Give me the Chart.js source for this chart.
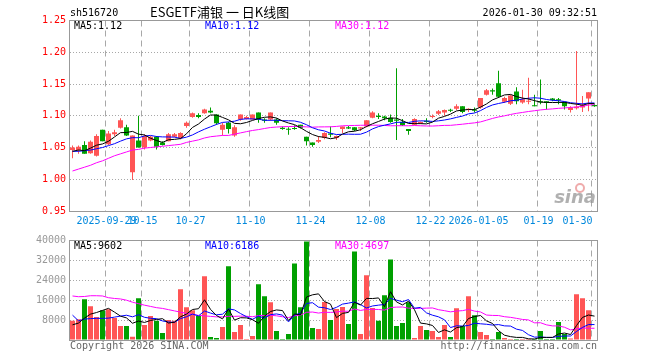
<!DOCTYPE html>
<html><head><meta charset="utf-8">
<script src="https://cdn.jsdelivr.net/npm/chart.js@4.4.1/dist/chart.umd.min.js"></script>
<style>
html,body{margin:0;padding:0;background:#fff;}
#wrap{position:relative;width:660px;height:360px;background:#fff;overflow:hidden;}
#c1{position:absolute;left:0;top:0;}
#c2{position:absolute;left:0;top:230px;}
</style></head><body>
<div id="wrap"><canvas id="c1" width="660" height="230"></canvas><canvas id="c2" width="660" height="130"></canvas></div>
<script>
// ---------- data ----------
const dates = [
'2025-09-19','2025-09-22','2025-09-23','2025-09-24','2025-09-25','2025-09-26','2025-09-29','2025-09-30',
'2025-10-09','2025-10-10','2025-10-13','2025-10-14','2025-10-15','2025-10-16','2025-10-17','2025-10-20','2025-10-21','2025-10-22','2025-10-23','2025-10-24','2025-10-27','2025-10-28','2025-10-29','2025-10-30','2025-10-31',
'2025-11-03','2025-11-04','2025-11-05','2025-11-06','2025-11-07','2025-11-10','2025-11-11','2025-11-12','2025-11-13','2025-11-14','2025-11-17','2025-11-18','2025-11-19','2025-11-20','2025-11-21','2025-11-24','2025-11-25','2025-11-26','2025-11-27','2025-11-28',
'2025-12-01','2025-12-02','2025-12-03','2025-12-04','2025-12-05','2025-12-08','2025-12-09','2025-12-10','2025-12-11','2025-12-12','2025-12-15','2025-12-16','2025-12-17','2025-12-18','2025-12-19','2025-12-22','2025-12-23','2025-12-24','2025-12-25','2025-12-26','2025-12-29','2025-12-30','2025-12-31',
'2026-01-05','2026-01-06','2026-01-07','2026-01-08','2026-01-09','2026-01-12','2026-01-13','2026-01-14','2026-01-15','2026-01-16','2026-01-19','2026-01-20','2026-01-21','2026-01-22','2026-01-23','2026-01-26','2026-01-27','2026-01-28','2026-01-29','2026-01-30'];

const tickDates = ['2025-09-29','2025-10-15','2025-10-27','2025-11-10','2025-11-24','2025-12-08','2025-12-22','2026-01-05','2026-01-19','2026-01-30'];
const tickTexts = ['2025-09-29','10-15','10-27','11-10','11-24','12-08','12-22','2026-01-05','01-19','01-30'];

const priceTicks = [0.95, 1.00, 1.05, 1.10, 1.15, 1.20, 1.25];
const volTicks = [0, 8000, 16000, 24000, 32000, 40000];

const opens = [1.046,1.046,1.054,1.041,1.037,1.078,1.055,1.071,1.081,1.082,
1.011,1.061,1.050,1.061,1.067,1.058,1.060,1.067,1.065,1.084,
1.098,1.101,1.104,1.108,1.102,1.078,1.089,1.069,1.094,1.095,
1.094,1.105,1.094,1.094,1.094,1.081,1.079,1.080,1.086,1.067,
1.058,1.059,1.065,1.072,1.065,1.079,1.082,1.082,1.080,1.083,
1.097,1.100,1.099,1.097,1.094,1.090,1.079,1.086,1.088,1.092,
1.098,1.103,1.105,1.109,1.111,1.115,1.109,1.110,1.113,1.133,
1.140,1.151,1.122,1.119,1.138,1.121,1.122,1.116,1.123,1.123,
1.127,1.126,1.122,1.109,1.112,1.113,1.127,1.117];
const highs = [1.053,1.053,1.060,1.061,1.071,1.078,1.076,1.078,1.096,1.086,
1.069,1.100,1.071,1.068,1.068,1.060,1.073,1.073,1.074,1.091,
1.105,1.104,1.111,1.113,1.102,1.089,1.090,1.085,1.102,1.100,
1.102,1.105,1.096,1.105,1.096,1.083,1.082,1.085,1.086,1.067,
1.058,1.068,1.074,1.083,1.069,1.083,1.084,1.082,1.082,1.093,
1.107,1.104,1.100,1.102,1.175,1.095,1.079,1.096,1.091,1.096,
1.102,1.109,1.110,1.111,1.118,1.115,1.112,1.113,1.128,1.142,
1.143,1.171,1.130,1.133,1.145,1.141,1.160,1.133,1.157,1.123,
1.128,1.128,1.122,1.115,1.202,1.131,1.137,1.118];
const lows = [1.033,1.040,1.040,1.040,1.036,1.060,1.054,1.068,1.080,1.068,
0.999,1.050,1.047,1.060,1.047,1.053,1.060,1.066,1.063,1.081,
1.097,1.096,1.103,1.104,1.086,1.069,1.072,1.067,1.092,1.094,
1.094,1.089,1.089,1.092,1.086,1.078,1.070,1.078,1.080,1.053,
1.051,1.057,1.063,1.066,1.062,1.073,1.079,1.076,1.076,1.082,
1.096,1.095,1.093,1.089,1.062,1.084,1.070,1.085,1.087,1.089,
1.096,1.101,1.100,1.106,1.109,1.104,1.106,1.105,1.111,1.132,
1.133,1.128,1.120,1.117,1.118,1.119,1.118,1.115,1.118,1.110,
1.123,1.118,1.110,1.105,1.110,1.106,1.107,1.114];
const closes = [1.050,1.051,1.040,1.059,1.068,1.060,1.072,1.074,1.093,1.069,
1.069,1.050,1.068,1.067,1.051,1.054,1.071,1.071,1.073,1.089,
1.104,1.098,1.110,1.105,1.088,1.086,1.079,1.082,1.102,1.098,
1.102,1.094,1.092,1.105,1.089,1.079,1.078,1.079,1.081,1.060,
1.054,1.062,1.073,1.070,1.068,1.083,1.080,1.077,1.082,1.093,
1.105,1.098,1.096,1.090,1.092,1.085,1.076,1.095,1.090,1.090,
1.099,1.107,1.109,1.108,1.115,1.106,1.111,1.108,1.128,1.140,
1.138,1.130,1.128,1.132,1.123,1.126,1.123,1.115,1.121,1.120,
1.125,1.124,1.115,1.113,1.114,1.117,1.137,1.115];

const ma5 = [1.044,1.046,1.045,1.049,1.0536,1.0556,1.0598,1.0666,1.0734,1.0736,
1.0754,1.0710,1.0698,1.0646,1.0610,1.0580,1.0622,1.0628,1.0640,1.0716,
1.0816,1.0870,1.0948,1.1012,1.1010,1.0974,1.0936,1.0880,1.0874,1.0894,
1.0926,1.0956,1.0976,1.0982,1.0964,1.0918,1.0886,1.0860,1.0812,1.0754,
1.0704,1.0672,1.0660,1.0638,1.0654,1.0712,1.0748,1.0756,1.0780,1.0830,
1.0874,1.0910,1.0948,1.0964,1.0962,1.0922,1.0878,1.0876,1.0876,1.0872,
1.0900,1.0962,1.0990,1.1026,1.1076,1.1090,1.1098,1.1096,1.1136,1.1186,
1.1250,1.1288,1.1328,1.1336,1.1302,1.1278,1.1264,1.1238,1.1216,1.1210,
1.1208,1.1210,1.1210,1.1194,1.1182,1.1166,1.1192,1.1192];
const ma10 = [1.044,1.044,1.045,1.046,1.048,1.050,1.053,1.056,1.060,1.0636,
1.0655,1.0654,1.0682,1.0690,1.0673,1.0667,1.0666,1.0663,1.0643,1.0663,
1.0698,1.0746,1.0788,1.0826,1.0863,1.0895,1.0903,1.0914,1.0943,1.0952,
1.0950,1.0946,1.0928,1.0928,1.0929,1.0922,1.0921,1.0918,1.0897,1.0859,
1.0811,1.0779,1.0760,1.0725,1.0704,1.0708,1.0710,1.0708,1.0709,1.0742,
1.0793,1.0829,1.0852,1.0872,1.0896,1.0898,1.0894,1.0912,1.0920,1.0917,
1.0911,1.0920,1.0933,1.0951,1.0974,1.0995,1.1030,1.1043,1.1081,1.1131,
1.1170,1.1193,1.1212,1.1236,1.1244,1.1264,1.1276,1.1283,1.1276,1.1256,
1.1243,1.1237,1.1224,1.1205,1.1196,1.1187,1.1201,1.1201];
const ma30 = [1.013,1.016,1.019,1.022,1.026,1.029,1.033,1.037,1.040,1.043,
1.046,1.047,1.049,1.050,1.051,1.052,1.053,1.054,1.055,1.058,
1.060,1.062,1.065,1.067,1.068,1.069,1.069,1.071,1.073,1.0750,
1.0768,1.0782,1.0799,1.0815,1.0822,1.0828,1.0830,1.0832,1.0828,1.0825,
1.0820,1.0824,1.0825,1.0826,1.0832,1.0842,1.0845,1.0847,1.0850,1.0851,
1.0851,1.0851,1.0847,1.0842,1.0843,1.0843,1.0842,1.0846,1.0842,1.0839,
1.0838,1.0843,1.0848,1.0849,1.0858,1.0867,1.0878,1.0888,1.0903,1.0930,
1.0958,1.0981,1.0999,1.1020,1.1038,1.1052,1.1067,1.1079,1.1092,1.1101,
1.1108,1.1117,1.1123,1.1131,1.1138,1.1149,1.1169,1.1176];

const volumes = [7700,8300,16400,13600,9200,12000,12400,8800,5600,5600,
1300,16800,6000,9600,7700,2800,8000,7700,20400,13200,
12000,9600,25600,1200,800,5200,29600,3200,6000,400,
1600,22400,17600,15200,3600,400,2400,30800,13200,39600,
4800,4400,15300,8000,12500,13300,6400,35600,2400,26000,
12900,7700,18000,32400,5600,6800,15200,800,5600,4000,
3600,1200,6000,1200,12800,5600,17600,10000,3200,2000,
400,3200,800,400,400,400,400,400,3600,400,
400,7200,2400,600,18400,16800,12000,200];
const vma5 = [6100,6800,8800,10400,11040,11900,12720,11200,9600,8880,
6740,7620,7060,7860,8280,8580,6820,7160,9320,10420,
12260,12580,16160,12320,9840,8480,12480,8000,8960,8880,
8160,6720,9600,11440,12080,11840,7840,10480,10080,17280,
18160,18560,15460,14420,9000,10700,11100,15160,14040,16740,
16660,16920,13400,19400,15320,14100,15600,12160,6800,6480,
5840,3040,4080,3200,4960,5360,8640,9440,9840,7680,
6640,3760,1920,1360,1040,1040,480,400,1040,1040,
1040,2400,2800,2200,5800,9080,10040,9600];
const vma10 = [10000,7700,8400,8600,8700,8700,8800,9200,9600,9960,
9320,10170,9130,8730,8580,7660,7220,7110,8590,9350,
10420,9700,11660,10820,10130,10370,12530,12080,10640,9360,
8320,9600,8800,10200,10480,10000,7280,10040,10760,14680,
15000,13200,12970,12250,13140,14430,14830,15310,14230,12870,
13680,14010,14280,16720,16030,15380,16260,12780,13100,10900,
9970,9320,8120,5000,5720,5600,5840,6760,6520,6320,
6000,6200,5680,5600,4360,3840,2120,1160,1200,1040,
1040,1440,1600,1620,3420,5060,6220,6200];
const vma30 = [17700,17400,17500,17800,17800,17700,17000,16700,16500,16000,
15200,14600,14000,13500,13000,12700,12200,11700,11200,10700,
10300,9900,9700,9500,9300,9300,9500,9500,9600,9560,
9350,9820,9860,9920,9730,9340,9010,9740,10000,11130,
11250,10830,11140,11090,11250,11600,11550,12480,11880,12300,
12330,12270,12020,13060,13220,13270,12790,12710,12700,12820,
12880,12180,11790,11320,11630,11800,12310,11620,11280,10030,
9880,9840,9360,9110,8700,8270,8070,6900,6940,6090,
5670,5650,5130,4070,4500,4830,4730,4710];

const priceLegend = ['MA5:1.12','MA10:1.12','MA30:1.12'];
const volLegend = ['MA5:9602','MA10:6186','MA30:4697'];

// ---------- styling ----------
const MONO = '"DejaVu Sans Mono", monospace';
const UP = '#ff5555', DOWN = '#00a000';
const MA_COLORS = ['#000000', '#0000ff', '#ff00ff'];
const GRID = '#a8a8a8';
const FRAME = '#999999';

const tickIdx = tickDates.map(d => dates.indexOf(d));
const candleColors = closes.map((c, i) => c >= opens[i] ? UP : DOWN);

const framePlugin = {
  id: 'frame',
  afterDraw(chart) {
    const {ctx, chartArea: a} = chart;
    ctx.save();
    ctx.strokeStyle = FRAME; ctx.lineWidth = 1;
    const l = Math.floor(a.left) + 0.5, t = Math.floor(a.top) + 0.5;
    const r = Math.floor(a.right) + 0.5, b = Math.floor(a.bottom) + 0.5;
    ctx.strokeRect(l, t, r - l, b - t);
    ctx.restore();
  }
};

function drawLegend(ctx, texts, y) {
  const xs = [74, 205, 335];
  ctx.font = '10px ' + MONO; ctx.textBaseline = 'middle'; ctx.textAlign = 'left';
  texts.forEach((t, i) => { ctx.fillStyle = MA_COLORS[i]; ctx.fillText(t, xs[i], y); });
}

const topText = {
  id: 'topText',
  afterDraw(chart) {
    const ctx = chart.ctx;
    ctx.save();
    ctx.textBaseline = 'middle';
    ctx.fillStyle = '#000';
    ctx.font = '10px ' + MONO; ctx.textAlign = 'left';
    ctx.fillText('sh516720', 70, 13);
    ctx.font = '13px "Noto Sans CJK SC"';
    ctx.fillText('ESGETF浦银 一 日K线图', 150, 12);
    ctx.font = '10px ' + MONO; ctx.textAlign = 'right';
    ctx.fillText('2026-01-30 09:32:51', 597, 13);
    drawLegend(ctx, priceLegend, 26);
    // watermark
    ctx.textAlign = 'right';
    ctx.font = 'italic bold 18px "DejaVu Sans"';
    ctx.fillStyle = 'rgba(150,150,150,0.75)';
    ctx.fillText('sina', 596, 198);
    ctx.strokeStyle = 'rgba(235,150,150,0.8)'; ctx.lineWidth = 2;
    ctx.beginPath(); ctx.arc(580, 188, 4, 0, Math.PI * 2); ctx.stroke();
    ctx.restore();
  }
};

const volText = {
  id: 'volText',
  afterDraw(chart) {
    const ctx = chart.ctx;
    ctx.save();
    drawLegend(ctx, volLegend, 16);
    ctx.font = '10px ' + MONO; ctx.textBaseline = 'middle';
    ctx.fillStyle = '#666'; ctx.textAlign = 'left';
    ctx.fillText('Copyright 2026 SINA.COM', 70, 116);
    ctx.textAlign = 'right';
    ctx.fillText('http://finance.sina.com.cn', 597, 116);
    ctx.restore();
  }
};

function lineDs(data, color) {
  return {type: 'line', data, borderColor: color, borderWidth: 1, pointRadius: 0,
          tension: 0, fill: false, order: 0};
}

function xScale(showLabels) {
  return {
    grid: {offset: true, drawTicks: false, lineWidth: 1,
           color: c => tickIdx.includes(c.index) ? GRID : 'rgba(0,0,0,0)'},
    border: {display: false, dash: [6, 4]},
    ticks: {display: showLabels, autoSkip: false, maxRotation: 0, minRotation: 0,
            padding: 4, align: 'inner', labelOffset: -2, color: '#0088dd',
            font: {family: MONO, size: 10},
            callback: (v, i) => { const k = tickIdx.indexOf(i); return k >= 0 ? tickTexts[k] : ''; }},
    afterFit: s => { s.height = showLabels ? 19 : 0; }
  };
}

Chart.defaults.animation = false;

new Chart(document.getElementById('c1'), {
  type: 'bar',
  data: {
    labels: dates,
    datasets: [
      lineDs(ma5, MA_COLORS[0]), lineDs(ma10, MA_COLORS[1]), lineDs(ma30, MA_COLORS[2]),
      {data: opens.map((o, i) => [o, closes[i]]), backgroundColor: candleColors,
       barThickness: 5, minBarLength: 1, grouped: false, inflateAmount: 0, order: 1},
      {data: lows.map((l, i) => [l, highs[i]]), backgroundColor: candleColors,
       barThickness: 1, minBarLength: 1, grouped: false, inflateAmount: 0, order: 2}
    ]
  },
  options: {
    responsive: false, animation: false, devicePixelRatio: 1,
    layout: {padding: {top: 20.5, right: 62.5, bottom: 0, left: 0}},
    plugins: {legend: {display: false}, tooltip: {enabled: false}},
    scales: {
      x: xScale(true),
      y: {
        min: priceTicks[0], max: priceTicks[priceTicks.length - 1],
        afterBuildTicks: s => { s.ticks = priceTicks.map(v => ({value: v})); },
        ticks: {color: '#ff0000', padding: 3.5, font: {family: MONO, size: 10},
                callback: v => Number(v).toFixed(2)},
        grid: {color: GRID, drawTicks: false},
        border: {display: false, dash: [1, 2]},
        afterFit: s => { s.width = 69.5; }
      }
    }
  },
  plugins: [framePlugin, topText]
});

new Chart(document.getElementById('c2'), {
  type: 'bar',
  data: {
    labels: dates,
    datasets: [
      lineDs(vma5, MA_COLORS[0]), lineDs(vma10, MA_COLORS[1]), lineDs(vma30, MA_COLORS[2]),
      {data: volumes, backgroundColor: candleColors, barThickness: 5, grouped: false,
       inflateAmount: 0, order: 1}
    ]
  },
  options: {
    responsive: false, animation: false, devicePixelRatio: 1,
    layout: {padding: {top: 10.5, right: 62.5, bottom: 20, left: 0}},
    plugins: {legend: {display: false}, tooltip: {enabled: false}},
    scales: {
      x: xScale(false),
      y: {
        min: volTicks[0], max: volTicks[volTicks.length - 1],
        afterBuildTicks: s => { s.ticks = volTicks.map(v => ({value: v})); },
        ticks: {color: '#999999', padding: 3.5, font: {family: MONO, size: 10},
                callback: v => v === 0 ? '' : String(v)},
        grid: {color: GRID, drawTicks: false},
        border: {display: false, dash: [1, 2]},
        afterFit: s => { s.width = 69.5; }
      }
    }
  },
  plugins: [framePlugin, volText]
});
</script>
</body></html>
